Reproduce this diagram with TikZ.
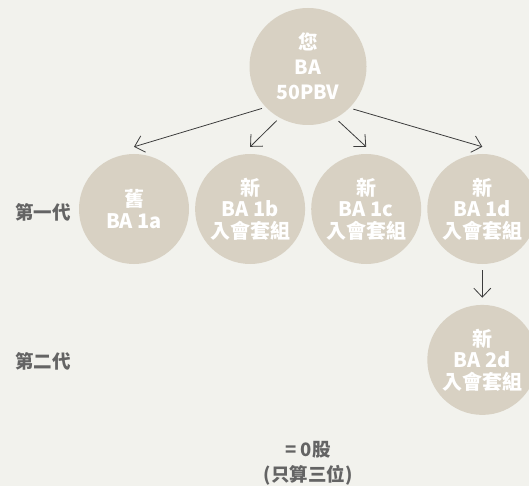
\documentclass[tikz,border=0pt]{standalone}
\usepackage{fontspec}
\setmainfont{Noto Sans CJK TC}
\usepackage{xcolor}
\usepackage{tikz}
\usetikzlibrary{arrows.meta}
\usetikzlibrary{positioning}

\definecolor{paperbg}{RGB}{242,242,237}
\definecolor{memberfill}{RGB}{216,209,195}
\definecolor{gentext}{RGB}{100,100,100}
\definecolor{linegray}{RGB}{60,60,60}

\begin{document}
\begin{tikzpicture}[x=1pt, y=-1pt, node distance = 5.7pt, auto, % Adjusted node distance
			member/.style={
					circle,
					fill=memberfill,
					text=white,
					minimum size=110pt,
					inner sep=0pt,
					align=center,
					font=\bfseries\fontsize{20}{21.5}\selectfont
				},
			root/.style={member, minimum size=117pt, font=\bfseries\fontsize{19.5}{25}\selectfont},
			gen/.style={text=gentext, align=center, font=\bfseries\fontsize{18.5}{25}\selectfont},
			line/.style={draw=linegray, line width=0.8pt, -{Straight Barb[length=9pt,width=17pt]}}
		]
		\fill[paperbg] (0,0) rectangle (529,486);
		\useasboundingbox (0,0) rectangle (529,486);
		% Place nodes
		\node [root] (you) at (308,66.5) {您\\BA\\50PBV};
		\node [member] (old1a) at (134,209) {舊\\BA 1a};
		\node [member, right=of old1a] (new1b) {新\\BA 1b\\入會套組};
		\node [member, right=of new1b] (new1c) {新\\BA 1c\\入會套組};
		\node [member, right=of new1c] (new1d) {新\\BA 1d\\入會套組};
		\node [member, below=40.5pt of new1d] (new2d) {新\\BA 2d\\入會套組};
		\node [gen] (gen1) at (43,212) {第一代};
		\node [gen] (gen2) at (43,361) {第二代};
		\node [gen] (total) at (308,463.5) {= 0股\\(只算三位)};
		% Draw edges
		\path [line, shorten <=4pt] (you.224) -- ([yshift=7pt]old1a.north);
		\path [line, shorten <=4pt] (you.241) -- ([yshift=7pt]new1b.north);
		\path [line, shorten <=4pt] (you.298) -- ([yshift=7pt]new1c.north);
		\path [line, shorten <=4pt] (you.315) -- ([yshift=7pt]new1d.north);
		\path [line, shorten <=6pt, shorten >=7pt] (new1d.south) -- (new2d.north);
	\end{tikzpicture}
\end{document}
